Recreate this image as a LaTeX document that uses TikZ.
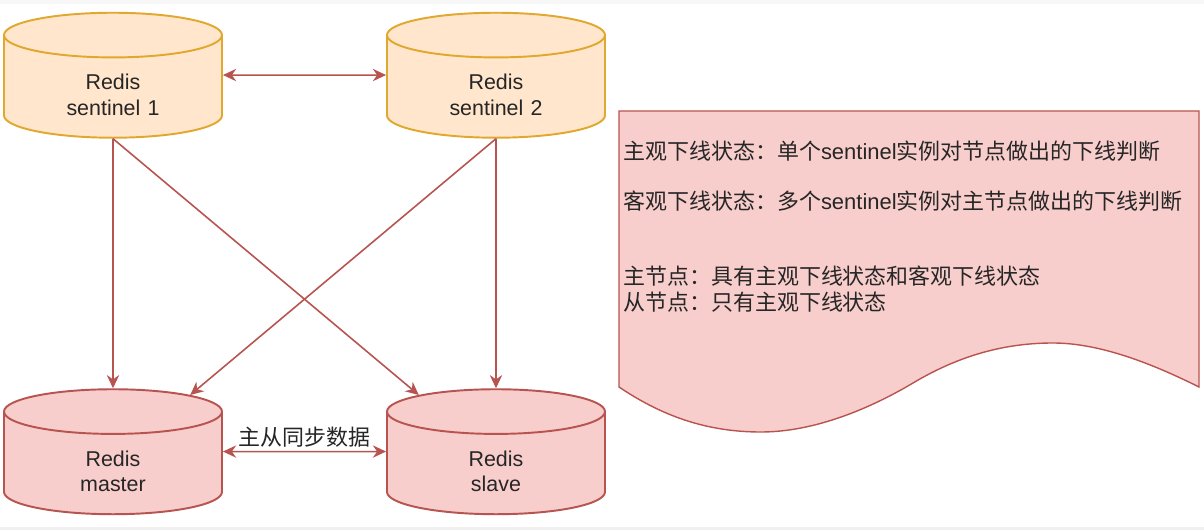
\documentclass[tikz,border=0pt]{standalone}
\usepackage{fontspec}
\setmainfont{Liberation Sans}
\newfontfamily\cjk{Noto Sans CJK SC}
\usetikzlibrary{shapes.geometric,arrows.meta}

\definecolor{redline}{HTML}{B85450}
\definecolor{redfill}{HTML}{F8CECC}
\definecolor{orangeline}{HTML}{E0A82E}
\definecolor{orangefill}{HTML}{FFE6CC}

\tikzset{
    dbnode/.style={cylinder, shape border rotate=90, aspect=0.4, draw, line width=1.1pt,
        minimum width=4.36cm, minimum height=2.5cm, align=center, text=black!85, text width=2cm,
        text height=13.8pt, font=\fontsize{12.2}{14.7}\selectfont},
    sentinel/.style={dbnode, draw=orangeline, fill=orangefill},
    store/.style={dbnode, draw=redline, fill=redfill},
    link/.style={draw=redline, line width=0.9pt, -{Stealth[length=7.5pt,width=7pt]}},
    twoway/.style={link, {Stealth[length=7.5pt,width=7pt]}-{Stealth[length=7.5pt,width=7pt]}},
    note/.style={anchor=west, font=\fontsize{12.5}{14}\selectfont, inner sep=0pt, text=black!85}
}

\begin{document}
\begin{tikzpicture}[x=0.02cm,y=-0.02cm]
    \useasboundingbox (0,0) rectangle (1204,530);
    \fill[white] (0,0) rectangle (1204,530);
    \fill[black!3] (0,0) rectangle (1204,4);
    \fill[black!6] (0,527) rectangle (1204,530);

    \node[sentinel] (s1) at (113,90.5) {Redis\\sentinel 1};
    \node[sentinel] (s2) at (496,90.5) {Redis\\sentinel 2};
    \node[store] (master) at (113,467) {Redis\\master};
    \node[store] (slave) at (496,467) {Redis\\slave};

    \draw[twoway] (s1.8) -- (s2.172);
    \draw[twoway] (master.8) -- node[above=-1.5pt, font=\fontsize{12.5}{14}\selectfont, text=black!85] (syncnote) {\cjk 主从同步数据} (slave.172);
    \draw[link] (s1.south) -- (master.north);
    \draw[link] (s2.south) -- (slave.north);
    \draw[link] (s1.south) -- (slave.137);
    \draw[link] (s2.south) -- (master.43);

    % note sheet
    \draw[draw=redline, fill=redfill, line width=0.8pt] (619,111) -- (1199,111) -- (1199,387)
        .. controls (1149,362) and (1098,343) .. (1053,343)
        .. controls (1000,343) and (955,358) .. (913,383)
        .. controls (871,408) and (815,432) .. (761,432)
        .. controls (710,432) and (665,418) .. (619,387) -- cycle;

    \node[note] (n1) at (623,151) {\cjk 主观下线状态：单个{\rmfamily sentinel}实例对节点做出的下线判断};
    \node[note] (n2) at (623,201) {\cjk 客观下线状态：多个{\rmfamily sentinel}实例对主节点做出的下线判断};
    \node[note] (n3) at (623,276) {\cjk 主节点：具有主观下线状态和客观下线状态};
    \node[note] (n4) at (623,302) {\cjk 从节点：只有主观下线状态};
\end{tikzpicture}
\end{document}
